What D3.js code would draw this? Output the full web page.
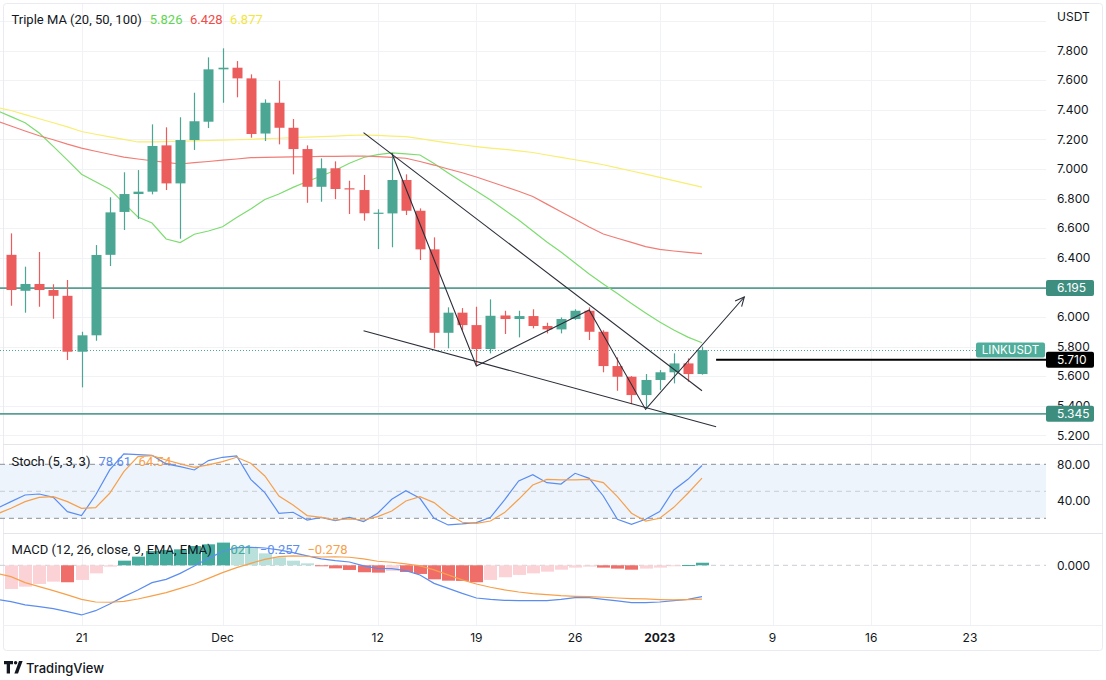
<!DOCTYPE html>
<html><head><meta charset="utf-8">
<script src="https://cdn.jsdelivr.net/npm/d3@7/dist/d3.min.js"></script>
<style>
body{margin:0;background:#fff;}
svg{display:block;font-family:Inter,"Noto Sans",Roboto,sans-serif;}
</style>
</head><body>
<svg id="c" width="1106" height="680"></svg>
<script>
// ---------- DATA ----------
const dates = ["2022-11-15","2022-11-16","2022-11-17","2022-11-18","2022-11-19","2022-11-20","2022-11-21","2022-11-22","2022-11-23","2022-11-24","2022-11-25",
"2022-11-26","2022-11-27","2022-11-28","2022-11-29","2022-11-30","2022-12-01","2022-12-02","2022-12-03","2022-12-04","2022-12-05",
"2022-12-06","2022-12-07","2022-12-08","2022-12-09","2022-12-10","2022-12-11","2022-12-12","2022-12-13","2022-12-14","2022-12-15",
"2022-12-16","2022-12-17","2022-12-18","2022-12-19","2022-12-20","2022-12-21","2022-12-22","2022-12-23","2022-12-24","2022-12-25",
"2022-12-26","2022-12-27","2022-12-28","2022-12-29","2022-12-30","2022-12-31","2023-01-01","2023-01-02","2023-01-03","2023-01-04"];
// candles start at 2022-11-16 (dates[1])
const open  = [6.42,6.177,6.223,6.182,6.143,5.765,5.876,6.42,6.71,6.831,6.847,7.16,6.903,7.196,7.32,7.674,7.685,7.613,7.24,7.448,7.279,7.135,6.88,7.005,6.87,6.858,6.70,6.70,6.926,6.718,6.457,5.893,6.029,5.945,5.783,6.01,5.986,6.006,5.939,5.916,5.986,6.042,5.90,5.668,5.596,5.472,5.574,5.626,5.686,5.614];
const high  = [6.565,6.34,6.439,6.221,6.25,5.90,6.486,6.809,6.978,6.993,7.302,7.282,7.35,7.516,7.755,7.816,7.73,7.64,7.471,7.597,7.338,7.16,7.072,7.052,6.921,6.96,6.728,7.106,6.964,6.734,6.538,6.065,6.06,6.069,6.119,6.042,6.042,6.052,5.961,5.997,6.052,6.065,5.91,5.727,5.60,5.614,5.641,5.754,5.72,5.799];
const low   = [6.076,6.029,6.069,5.988,5.709,5.524,5.839,6.344,6.588,6.662,6.829,6.858,6.529,7.129,7.277,7.448,7.485,7.212,7.189,7.167,6.964,6.772,6.779,6.797,6.696,6.651,6.459,6.471,6.689,6.385,5.788,5.788,5.91,5.675,5.754,5.885,5.862,5.923,5.889,5.889,5.98,5.844,5.626,5.501,5.411,5.389,5.506,5.551,5.562,5.61];
const close = [6.182,6.223,6.182,6.143,5.765,5.876,6.419,6.707,6.831,6.847,7.156,6.903,7.196,7.323,7.674,7.685,7.613,7.237,7.448,7.279,7.135,6.88,7.005,6.865,6.862,6.701,6.705,6.926,6.718,6.457,5.893,6.029,5.945,5.783,6.008,5.986,6.006,5.939,5.916,5.986,6.042,5.90,5.668,5.596,5.472,5.574,5.626,5.686,5.614,5.776];
// moving averages (from dates[0])
const ma20  = [7.395,7.354,7.313,7.244,7.153,7.060,6.965,6.914,6.864,6.770,6.676,6.635,6.527,6.503,6.559,6.581,6.610,6.672,6.730,6.794,6.831,6.876,6.916,6.953,6.992,7.039,7.078,7.098,7.109,7.103,7.095,7.037,6.973,6.912,6.851,6.791,6.723,6.655,6.581,6.507,6.439,6.365,6.290,6.223,6.158,6.091,6.027,5.966,5.912,5.864,5.826];
const ma50  = [7.325,7.291,7.257,7.225,7.198,7.168,7.141,7.120,7.100,7.081,7.068,7.056,7.045,7.034,7.043,7.051,7.060,7.068,7.077,7.079,7.080,7.082,7.083,7.085,7.086,7.087,7.088,7.084,7.079,7.073,7.051,7.027,7.000,6.975,6.946,6.914,6.882,6.850,6.814,6.763,6.711,6.660,6.608,6.561,6.532,6.504,6.475,6.457,6.446,6.436,6.428];
const ma100 = [7.417,7.396,7.368,7.340,7.313,7.285,7.254,7.235,7.218,7.200,7.183,7.183,7.185,7.188,7.191,7.193,7.196,7.198,7.201,7.205,7.208,7.212,7.216,7.219,7.223,7.227,7.230,7.227,7.223,7.219,7.206,7.191,7.177,7.164,7.152,7.142,7.133,7.123,7.112,7.095,7.079,7.063,7.047,7.029,7.008,6.987,6.966,6.944,6.922,6.900,6.878];
// stochastic (from dates[0])
const stochK = [31.1,38.5,45.9,47,43.3,27.4,23,45.9,73.7,91.5,90.7,90,80.4,77.4,73.7,84.1,87.8,89.3,63.3,48.5,25.6,26.7,18.1,21.1,17.4,21.1,16.3,25.6,41.1,50.7,42.2,20,12.6,13.7,15.2,21.1,40.4,61.5,68.5,59.6,58.1,70,64.4,44.8,18.9,13.3,18.9,27.4,51.5,63.3,78.61];
const stochD = [24.8,31.1,38.5,43.3,44.1,38.5,31.1,31.9,47.8,71.9,88.5,89.6,84.8,80.4,76.7,79.3,83,87.8,81.1,67,44.8,34.8,23,21.1,18.1,19.3,18.1,21.9,28.1,39.3,44.1,37.4,24.8,15.6,14.4,17,26.3,41.1,57,63.3,62.6,62.6,63.3,59.6,44.1,25.6,17,20,32.2,47.8,64.54];
// MACD (lines from dates[0], histogram from dates[1])
const macdLine = [-0.279,-0.298,-0.325,-0.339,-0.355,-0.380,-0.407,-0.372,-0.317,-0.257,-0.202,-0.142,-0.115,-0.066,-0.005,0.057,0.112,0.145,0.148,0.142,0.126,0.104,0.077,0.052,0.038,0.027,-0.005,-0.025,-0.027,-0.044,-0.079,-0.148,-0.189,-0.230,-0.268,-0.279,-0.287,-0.290,-0.290,-0.290,-0.279,-0.265,-0.265,-0.279,-0.292,-0.306,-0.306,-0.301,-0.290,-0.279,-0.257];
const signalLine = [-0.066,-0.093,-0.142,-0.175,-0.208,-0.243,-0.279,-0.301,-0.303,-0.295,-0.276,-0.251,-0.224,-0.189,-0.153,-0.107,-0.060,-0.019,0.016,0.049,0.071,0.077,0.074,0.068,0.070,0.066,0.052,0.033,0.025,0.011,-0.005,-0.038,-0.079,-0.120,-0.153,-0.180,-0.202,-0.219,-0.232,-0.240,-0.249,-0.254,-0.257,-0.262,-0.268,-0.273,-0.276,-0.281,-0.284,-0.281,-0.278];
const histogram = [-0.194,-0.175,-0.153,-0.134,-0.139,-0.120,-0.066,-0.011,0.038,0.071,0.117,0.126,0.131,0.158,0.172,0.186,0.148,0.145,0.098,0.066,0.038,0.016,-0.003,-0.025,-0.038,-0.057,-0.060,-0.046,-0.055,-0.071,-0.115,-0.126,-0.128,-0.139,-0.120,-0.098,-0.079,-0.066,-0.052,-0.036,-0.019,-0.011,-0.019,-0.027,-0.036,-0.027,-0.019,-0.005,0.002,0.021];
// axes
const xTickDates  = ["2022-11-21","2022-12-01","2022-12-12","2022-12-19","2022-12-26","2023-01-01","2023-01-09","2023-01-16","2023-01-23"];
const xTickLabels = ["21","Dec","12","19","26","2023","9","16","23"];
const priceTicks = [5.2,5.4,5.6,5.8,6.0,6.2,6.4,6.6,6.8,7.0,7.2,7.4,7.6,7.8];
const priceGrid  = [5.2,5.4,5.6,5.8,6.0,6.2,6.4,6.6,6.8,7.0,7.2,7.4,7.6,7.8,8.0];
const stochTicks = [80,40];
const macdTicks = [0];
// levels and drawings
const levels = [6.195, 5.345];
const lastPrice = 5.776;
const rayLevel = {date:"2023-01-05", price:5.710};
const upperTrend = [["2022-12-11",7.246],["2023-01-04",5.501]];
const lowerTrend = [["2022-12-11",5.907],["2023-01-05",5.258]];
const zigzag = [["2022-12-13",7.108],["2022-12-19",5.668],["2022-12-27",6.047],["2022-12-31",5.375],["2023-01-07",6.135]];
const legendMA = {title:"Triple MA (20, 50, 100)", values:["5.826","6.428","6.877"]};
const legendStoch = {title:"Stoch (5, 3, 3)", values:["78.61","64.54"]};
const legendMACD = {title:"MACD (12, 26, close, 9, EMA, EMA)", values:["0.021","\u22120.257","\u22120.278"]};

// ---------- SETUP ----------
const parse = d3.utcParse("%Y-%m-%d");
const D = dates.map(parse);
const svg = d3.select("#c");
const plotR = 1046;
const TXT = "#131722";
const UP = "#4ca694", DN = "#eb5c5c";
const C_MA = ["#7ddc6f","#f07d76","#f8ee72"];
const C_MA_T = ["#5fd651","#ef4d46","#f2e63a"];
const C_K = "#5b8df0", C_D = "#f7a04b";

const x = d3.scaleUtc().domain([parse("2022-11-16"), parse("2023-01-04")]).range([11, 702]);
const yP = d3.scaleLinear().domain([5.2, 7.8]).range([435.3, 50.7]);
const yS = d3.scaleLinear().domain([20, 80]).range([518.3, 464.3]);
const yM = d3.scaleLinear().domain([-0.3, 0]).range([601.9, 565.3]);

const panels = {main:[0,444], stoch:[444,533], macd:[533,625]};
const defs = svg.append("defs");
Object.entries(panels).forEach(([k,[t,b]])=>{
  defs.append("clipPath").attr("id","clip-"+k).append("rect").attr("x",0).attr("y",t).attr("width",plotR).attr("height",b-t);
});

// grid
const grid = svg.append("g");
xTickDates.forEach(d=>{
  const xx = Math.round(x(parse(d)))+0.5;
  grid.append("line").attr("x1",xx).attr("x2",xx).attr("y1",4).attr("y2",625).attr("stroke","#f0f2f6");
});
grid.append("g").attr("clip-path","url(#clip-main)").selectAll("line").data(priceGrid).join("line")
  .attr("x1",0).attr("x2",plotR).attr("y1",d=>Math.round(yP(d))+0.5).attr("y2",d=>Math.round(yP(d))+0.5).attr("stroke","#f0f2f6");

// borders / separators
svg.append("rect").attr("x",3.5).attr("y",3.5).attr("width",1099).attr("height",647).attr("rx",3).attr("fill","none").attr("stroke","#e9ebf0");
[444,533].forEach(yy=>svg.append("line").attr("x1",3).attr("x2",1103).attr("y1",yy+0.5).attr("y2",yy+0.5).attr("stroke","#e3e5ea"));
svg.append("line").attr("x1",3).attr("x2",1103).attr("y1",625.5).attr("y2",625.5).attr("stroke","#eef0f3");

// ---------- MAIN PANEL ----------
const main = svg.append("g").attr("clip-path","url(#clip-main)");
levels.forEach(l=>main.append("line").attr("x1",0).attr("x2",plotR).attr("y1",yP(l)).attr("y2",yP(l)).attr("stroke","#5a9f94").attr("stroke-width",1.6));
[ma20,ma50,ma100].forEach((arr,k)=>{
  main.append("path").datum(arr).attr("fill","none").attr("stroke",C_MA[k]).attr("stroke-width",1.2)
    .attr("d", d3.line().x((d,i)=>x(D[i])).y(d=>yP(d)));
});
main.append("line").attr("x1",0).attr("x2",976).attr("y1",Math.round(yP(lastPrice))+0.5).attr("y2",Math.round(yP(lastPrice))+0.5)
  .attr("stroke",UP).attr("stroke-dasharray","1,2").attr("stroke-width",1);
const candles = close.map((c,i)=>({date:D[i+1], o:open[i], h:high[i], l:low[i], c}));
const cg = main.append("g");
cg.selectAll("line").data(candles).join("line")
  .attr("x1",d=>Math.round(x(d.date))+0.5).attr("x2",d=>Math.round(x(d.date))+0.5)
  .attr("y1",d=>yP(d.h)).attr("y2",d=>yP(d.l))
  .attr("stroke",d=>d.c>=d.o?UP:DN).attr("stroke-width",1.2);
cg.selectAll("rect").data(candles).join("rect")
  .attr("x",d=>Math.round(x(d.date))-4.5).attr("width",10)
  .attr("y",d=>yP(Math.max(d.o,d.c)))
  .attr("height",d=>Math.max(1.2, Math.abs(yP(d.o)-yP(d.c))))
  .attr("fill",d=>d.c>=d.o?UP:DN);
const pt = p=>[x(parse(p[0])), yP(p[1])];
const dl = d3.line();
const dg = main.append("g").attr("fill","none").attr("stroke","#2a2e39").attr("stroke-width",1.1);
dg.append("path").attr("d", dl(upperTrend.map(pt)));
dg.append("path").attr("d", dl(lowerTrend.map(pt)));
dg.append("path").attr("d", dl(zigzag.map(pt)));
{ const a = pt(zigzag[zigzag.length-2]), b = pt(zigzag[zigzag.length-1]);
  const ang = Math.atan2(b[1]-a[1], b[0]-a[0]); const L = 10;
  const p1 = [b[0]-L*Math.cos(ang-0.45), b[1]-L*Math.sin(ang-0.45)];
  const p2 = [b[0]-L*Math.cos(ang+0.45), b[1]-L*Math.sin(ang+0.45)];
  dg.append("path").attr("d", dl([p1,b,p2])); }
main.append("line").attr("x1",x(parse(rayLevel.date))).attr("x2",plotR).attr("y1",yP(rayLevel.price)).attr("y2",yP(rayLevel.price))
  .attr("stroke","#000").attr("stroke-width",2);

function legend(x0, yc, title, vals, colors){
  const g = svg.append("g").attr("font-size",13).attr("font-family","Roboto,Inter,sans-serif");
  const t = g.append("text").attr("x",x0).attr("y",yc).attr("dy","0.35em").attr("fill",TXT).text(title);
  let cx = x0 + t.node().getComputedTextLength() + 8;
  vals.forEach((v,i)=>{
    const tv = g.append("text").attr("x",cx).attr("y",yc).attr("dy","0.35em").attr("fill",colors[i]).text(v);
    cx += tv.node().getComputedTextLength() + 7.5;
  });
  return g;
}
legend(11.5, 19, legendMA.title, legendMA.values, C_MA_T);

// ---------- STOCH PANEL ----------
const st = svg.append("g");
st.append("rect").attr("x",0).attr("width",plotR).attr("y",yS(80)).attr("height",yS(20)-yS(80)).attr("fill","#edf4fc");
st.append("line").attr("x1",0).attr("x2",plotR).attr("y1",yS(50)).attr("y2",yS(50)).attr("stroke","#c9ccd3").attr("stroke-dasharray","5,4");
[80,20].forEach(v=>st.append("line").attr("x1",0).attr("x2",plotR).attr("y1",yS(v)).attr("y2",yS(v)).attr("stroke","#8c8f98").attr("stroke-dasharray","5,4"));
legend(11.5, 461, legendStoch.title, legendStoch.values, [C_K, C_D]);
const stl = svg.append("g").attr("clip-path","url(#clip-stoch)");
[[stochK,C_K],[stochD,C_D]].forEach(([arr,col])=>{
  stl.append("path").datum(arr).attr("fill","none").attr("stroke",col).attr("stroke-width",1.2)
    .attr("d", d3.line().x((d,i)=>x(D[i])).y(d=>yS(d)));
});

// ---------- MACD PANEL ----------
const mg0 = svg.append("g");
mg0.append("line").attr("x1",0).attr("x2",plotR).attr("y1",yM(0)).attr("y2",yM(0)).attr("stroke","#c9ccd3").attr("stroke-dasharray","5,4");
const mg = svg.append("g").attr("clip-path","url(#clip-macd)");
const histColor = (h,i)=>{
  const prev = i>0 ? histogram[i-1] : null;
  if (h>=0) return (prev!==null && prev<h) ? "#45ab9c" : "#b9e0da";
  return (prev!==null && prev>h) ? "#f06e69" : "#fbd3d6";
};
mg.selectAll("rect.h").data(histogram).join("rect")
  .attr("x",(d,i)=>Math.round(x(D[i+1]))-6).attr("width",13)
  .attr("y",d=>Math.min(yM(d),yM(0))).attr("height",d=>Math.max(1,Math.abs(yM(d)-yM(0))))
  .attr("fill",histColor);
[[macdLine,C_K],[signalLine,C_D]].forEach(([arr,col])=>{
  mg.append("path").datum(arr).attr("fill","none").attr("stroke",col).attr("stroke-width",1.2)
    .attr("d", d3.line().x((d,i)=>x(D[i])).y(d=>yM(d)));
});
legend(11.5, 549, legendMACD.title, legendMACD.values, ["#45ab9c", C_K, C_D]);

// ---------- AXES ----------
function priceLabelYs(){ return levels.concat([rayLevel.price]).map(v=>yP(v)); }
const labelYs = priceLabelYs();
const ax = svg.append("g").attr("font-size",12).attr("fill",TXT);
ax.append("text").attr("x",1057).attr("y",17).attr("dy","0.35em").text("USDT");
ax.selectAll("text.p").data(priceTicks.filter(t=>labelYs.every(ly=>Math.abs(ly-yP(t))>4))).join("text").attr("class","p")
  .attr("x",1057).attr("y",d=>yP(d)).attr("dy","0.35em").text(d=>d3.format(".3f")(d));
ax.selectAll("text.s").data(stochTicks).join("text").attr("class","s")
  .attr("x",1057).attr("y",d=>yS(d)).attr("dy","0.35em").text(d=>d3.format(".2f")(d));
ax.selectAll("text.m").data(macdTicks).join("text").attr("class","m")
  .attr("x",1057).attr("y",d=>yM(d)).attr("dy","0.35em").text(d=>d3.format(".3f")(d));
ax.selectAll("text.x").data(xTickDates).join("text").attr("class","x")
  .attr("x",d=>x(parse(d))).attr("y",638).attr("dy","0.35em").attr("text-anchor","middle")
  .attr("font-weight",(d,i)=>xTickLabels[i]==="2023"?700:400)
  .text((d,i)=>xTickLabels[i]);

function priceLabel(v, bg){
  const g = svg.append("g");
  g.append("rect").attr("x",1046).attr("y",yP(v)-8).attr("width",48).attr("height",16).attr("rx",2).attr("fill",bg);
  g.append("text").attr("x",1057).attr("y",yP(v)).attr("dy","0.35em").attr("font-size",12).attr("fill","#fff").text(d3.format(".3f")(v));
}
levels.forEach(l=>priceLabel(l,"#3e8e80"));
priceLabel(rayLevel.price,"#000");
{ const g = svg.append("g");
  g.append("rect").attr("x",976).attr("y",yP(lastPrice)-7.5).attr("width",69).attr("height",15).attr("rx",2).attr("fill","#4fae9b");
  g.append("text").attr("x",1010.5).attr("y",yP(lastPrice)).attr("dy","0.35em").attr("text-anchor","middle").attr("font-size",11.5).attr("fill","#fff").text("LINKUSDT"); }

{ const g = svg.append("g").attr("fill","#131722");
  g.append("path").attr("d","M4 661h9v3.2h-3v9.3h-3.3v-9.3H4z");
  g.append("circle").attr("cx",15.6).attr("cy",662.7).attr("r",1.7);
  g.append("path").attr("d","M19 661h3.6l-4.6 12.5h-3.6z");
  g.append("text").attr("x",26).attr("y",668).attr("dy","0.35em").attr("font-size",13).attr("font-weight",500).text("TradingView"); }
</script>
</body></html>
